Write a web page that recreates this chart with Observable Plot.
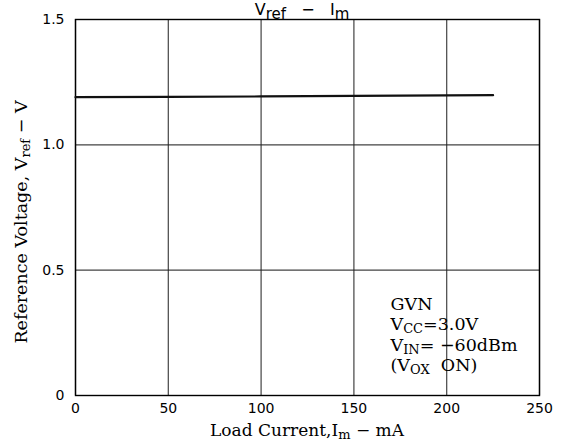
<!DOCTYPE html>
<html>
<head>
<meta charset="utf-8">
<script src="https://cdn.jsdelivr.net/npm/d3@7"></script>
<script src="https://cdn.jsdelivr.net/npm/@observablehq/plot@0.6"></script>
<style>
  body { margin: 0; background: #fff; }
  #chart svg { display: block; }
</style>
</head>
<body>
<div id="chart"></div>
<script>
// Data
const loadCurrent = [0, 50, 100, 150, 200, 225];       // mA
const refVoltage  = [1.19, 1.191, 1.193, 1.195, 1.197, 1.198]; // V
const xTicks = [0, 50, 100, 150, 200, 250];
const yTicks = [0, 0.5, 1.0, 1.5];
const yTickLabels = ["0", "0.5", "1.0", "1.5"];
const noteLines = [
  [["GVN", ""]],
  [["V", ""], ["CC", "sub"], ["=3.0V", ""]],
  [["V", ""], ["IN", "sub"], ["= \u221260dBm", ""]],
  [["(V", ""], ["OX", "sub"], ["  ON)", ""]]
];
const notePos = {x: 170, y: 0.34};

const data = loadCurrent.map((c, i) => ({c, v: refVoltage[i]}));
const sans = "'DejaVu Sans', sans-serif";
const serif = "'DejaVu Serif', 'Liberation Serif', serif";

const chart = Plot.plot({
  width: 563,
  height: 448,
  marginLeft: 75,
  marginRight: 24,
  marginTop: 19,
  marginBottom: 53,
  style: {background: "#fff", color: "#000"},
  x: {domain: [0, 250], label: null},
  y: {domain: [0, 1.5], label: null},
  marks: [
    Plot.gridX(xTicks, {stroke: "#222", strokeOpacity: 0.85, strokeWidth: 1.2}),
    Plot.gridY(yTicks, {stroke: "#222", strokeOpacity: 0.85, strokeWidth: 1.2}),
    Plot.frame({stroke: "#000", strokeWidth: 1.4}),
    Plot.axisX({ticks: xTicks, tickSize: 0, tickPadding: 8, fontSize: 14, fontFamily: sans, label: null}),
    Plot.axisY({ticks: yTicks, tickSize: 0, tickPadding: 11, fontSize: 14, fontFamily: sans, label: null,
      tickFormat: (d) => yTickLabels[yTicks.indexOf(d)]}),
    Plot.line(data, {x: "c", y: "v", stroke: "#111", strokeWidth: 2.2})
  ]
});
document.getElementById("chart").appendChild(chart);

const svg = d3.select(chart);
const sx = chart.scale("x"), sy = chart.scale("y");

function addRich(g, parts, subSize) {
  parts.forEach(([t, kind]) => {
    const ts = g.append("tspan").text(t);
    if (kind === "sub") ts.attr("baseline-shift", "-25%").attr("font-size", subSize);
  });
}

// Title
const title = svg.append("text")
  .attr("x", sx.apply(125) - 5).attr("y", 15)
  .attr("text-anchor", "middle")
  .attr("font-family", sans).attr("font-size", 16).attr("fill", "#000");
addRich(title, [["V", ""], ["ref", "sub"], ["   \u2212   I", ""], ["m", "sub"]], 15);

// X axis label
const xl = svg.append("text")
  .attr("x", sx.apply(125)).attr("y", 436)
  .attr("text-anchor", "middle")
  .attr("font-family", serif).attr("font-size", 17).attr("fill", "#000");
addRich(xl, [["Load Current,I", ""], ["m", "sub"], [" \u2212 mA", ""]], 13);

// Y axis label
const yl = svg.append("text")
  .attr("transform", `translate(27,${sy.apply(0.75) + 15}) rotate(-90)`)
  .attr("text-anchor", "middle")
  .attr("font-family", serif).attr("font-size", 17.5).attr("fill", "#000");
addRich(yl, [["Reference Voltage, V", ""], ["ref", "sub"], [" \u2212 V", ""]], 13);

// Annotation
noteLines.forEach((parts, i) => {
  const t = svg.append("text")
    .attr("x", sx.apply(notePos.x)).attr("y", sy.apply(notePos.y) + i * 20.5)
    .attr("text-anchor", "start")
    .attr("font-family", serif).attr("font-size", 17.5).attr("fill", "#000");
  addRich(t, parts, 13);
});
</script>
</body>
</html>
